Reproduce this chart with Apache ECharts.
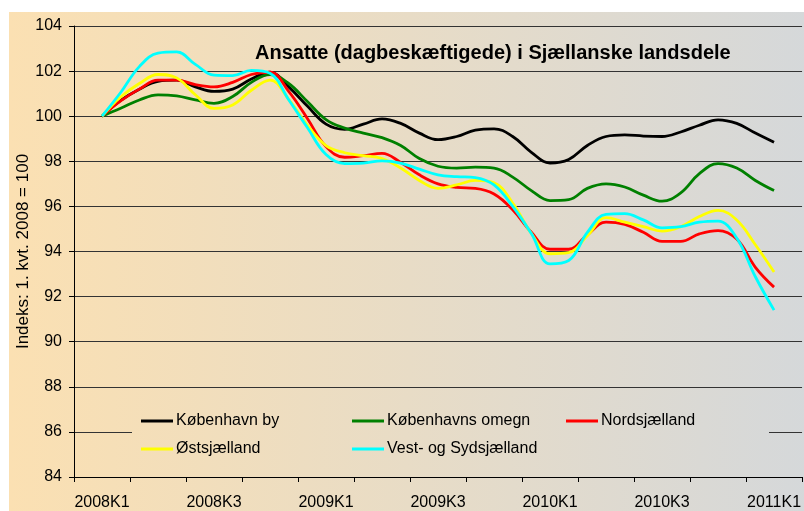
<!DOCTYPE html>
<html>
<head>
<meta charset="utf-8">
<script src="https://cdn.jsdelivr.net/npm/echarts@6/dist/echarts.min.js"></script>
<style>
  html, body { margin: 0; padding: 0; background: #fff; }
  #chart { width: 804px; height: 511px; }
</style>
</head>
<body>
<div id="chart"></div>
<script>
// kvartaler paa x-aksen, data er maanedlige (midten af 2008K1 .. midten af 2011K1)
const quarters = ['2008K1', '2008K2', '2008K3', '2008K4', '2009K1', '2009K2', '2009K3',
  '2009K4', '2010K1', '2010K2', '2010K3', '2010K4', '2011K1'];

const kbhBy = [100.0, 100.7, 101.2, 101.55, 101.6, 101.3, 101.1, 101.2, 101.65, 101.95, 101.3, 100.45,
  99.65, 99.42, 99.65, 99.88, 99.68, 99.25, 98.96, 99.1, 99.38, 99.44, 99.1, 98.4, 97.92, 98.08,
  98.7, 99.1, 99.17, 99.12, 99.1, 99.3, 99.6, 99.84, 99.68, 99.25, 98.84];
const kbhOmegn = [100.0, 100.35, 100.72, 100.95, 100.9, 100.72, 100.57, 100.87, 101.5, 101.85, 101.45, 100.65,
  99.85, 99.47, 99.25, 99.05, 98.7, 98.12, 97.78, 97.7, 97.74, 97.7, 97.3, 96.7, 96.26, 96.3,
  96.8, 97.0, 96.86, 96.5, 96.23, 96.6, 97.45, 97.9, 97.7, 97.15, 96.7];
const nordsj = [100.0, 100.68, 101.2, 101.6, 101.6, 101.4, 101.3, 101.5, 101.85, 101.95, 101.1, 99.9,
  98.65, 98.18, 98.25, 98.35, 97.95, 97.4, 97.0, 96.84, 96.8, 96.55, 95.85, 94.85, 94.1, 94.1,
  94.75, 95.3, 95.2, 94.85, 94.45, 94.45, 94.78, 94.93, 94.55, 93.3, 92.42];
const ostsj = [100.0, 100.85, 101.45, 101.85, 101.7, 100.95, 100.35, 100.5, 101.15, 101.6, 100.75, 99.6,
  98.7, 98.38, 98.25, 98.12, 97.7, 97.15, 96.8, 96.95, 97.15, 97.05, 96.15, 94.8, 93.9, 93.95,
  94.7, 95.5, 95.3, 95.1, 94.9, 95.1, 95.55, 95.82, 95.4, 94.3, 93.09];
const vestSyd = [100.0, 101.05, 102.2, 102.8, 102.85, 102.3, 101.82, 101.8, 102.03, 101.9, 100.73, 99.5,
  98.3, 97.9, 97.92, 98.02, 97.92, 97.65, 97.4, 97.32, 97.28, 96.95, 96.0, 94.8, 93.45, 93.6,
  94.85, 95.65, 95.68, 95.4, 95.05, 95.1, 95.3, 95.35, 94.6, 92.88, 91.4];

const names = ['København by', 'Københavns omegn', 'Nordsjælland', 'Østsjælland', 'Vest- og Sydsjælland'];
const colors = ['#000000', '#008000', '#ff0000', '#ffff00', '#00ffff'];
const values = [kbhBy, kbhOmegn, nordsj, ostsj, vestSyd];

// 3 maaneder pr. kvartal, kvartalsnavnet staar paa den midterste maaned
const months = quarters.flatMap(q => [q + ' m1', q, q + ' m3']);

const fontFamily = "'Liberation Sans', Arial, sans-serif";
const bgStops = [{ offset: 0, color: '#fbe0b2' }, { offset: 1, color: '#d5d8da' }];

const chart = echarts.init(document.getElementById('chart'));

const option = {
  animation: false,
  color: colors,
  title: {
    text: 'Ansatte (dagbeskæftigede) i Sjællanske landsdele',
    left: 250,
    top: 38,
    textStyle: { fontFamily, fontSize: 20, fontWeight: 'bold', color: '#000' }
  },
  legend: [
    { data: [names[0], names[3]], left: 141, top: 413 },
    { data: [names[1], names[4]], left: 352, top: 413 },
    { data: [names[2]], left: 566, top: 413 }
  ].map(l => Object.assign({
    orient: 'vertical',
    icon: 'rect',
    itemWidth: 32,
    itemHeight: 3,
    itemGap: 12,
    padding: 0,
    z: 20,
    lineStyle: { width: 2.5 },
    textStyle: { fontFamily, fontSize: 16, color: '#000', padding: [0, 0, 0, -2] }
  }, l)),
  graphic: {
    elements: [
      {
        type: 'rect',
        z: -10,
        shape: { x: 9, y: 12, width: 800, height: 505 },
        style: { fill: new echarts.graphic.LinearGradient(0, 0, 1, 0, bgStops) }
      },
      {
        // legendens baggrund skjuler gitterlinjerne
        type: 'rect',
        z: 10,
        shape: { x: 132, y: 396, width: 637, height: 74 },
        style: { fill: new echarts.graphic.LinearGradient(9, 0, 804, 0, bgStops, true) }
      }
    ]
  },
  grid: {
    left: 74,
    top: 26,
    width: 731,
    height: 451
  },
  xAxis: {
    type: 'category',
    data: months,
    boundaryGap: true,
    axisLine: { show: true, lineStyle: { color: '#000', width: 1 } },
    axisTick: {
      show: true,
      length: 5,
      interval: (index) => index % 3 === 0,
      lineStyle: { color: '#000' }
    },
    axisLabel: {
      interval: (index) => index % 6 === 1,
      margin: 18,
      fontFamily,
      fontSize: 16,
      color: '#000'
    },
    splitLine: { show: false }
  },
  yAxis: {
    type: 'value',
    min: 84,
    max: 104,
    interval: 2,
    name: 'Indeks: 1. kvt. 2008 = 100',
    nameLocation: 'middle',
    nameGap: 42,
    nameMoveOverlap: false,
    nameTextStyle: { fontFamily, fontSize: 17, color: '#000' },
    axisLine: { show: true, lineStyle: { color: '#000', width: 1 } },
    axisTick: { show: true, length: 5, lineStyle: { color: '#000' } },
    axisLabel: { margin: 12, fontFamily, fontSize: 16, color: '#000' },
    splitLine: { show: true, lineStyle: { color: '#333', width: 1 } }
  },
  series: values.map((vals, i) => ({
    name: names[i],
    type: 'line',
    data: [null].concat(vals, [null]),
    smooth: 0.4,
    symbol: 'none',
    lineStyle: { width: 2.8, color: colors[i] },
    itemStyle: { color: colors[i] },
    z: 2 + i
  }))
};

chart.setOption(option);
</script>
</body>
</html>
